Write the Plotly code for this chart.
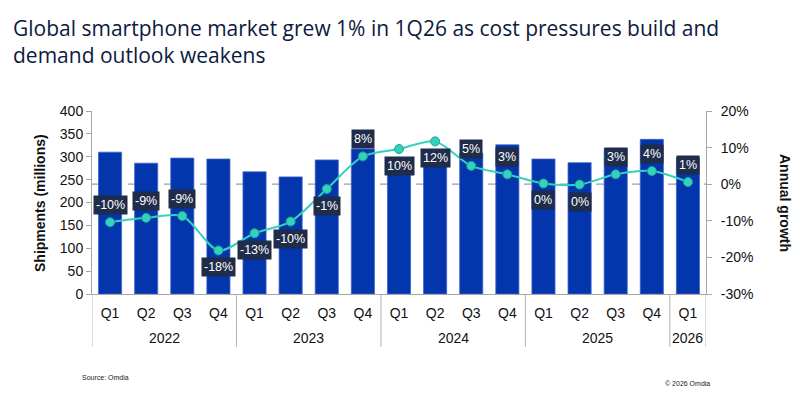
import plotly.graph_objects as go

# ---- data ----
years = ["2022"] * 4 + ["2023"] * 4 + ["2024"] * 4 + ["2025"] * 4 + ["2026"]
quarters = ["Q1", "Q2", "Q3", "Q4"] * 4 + ["Q1"]
shipments = [310, 286, 297, 295, 267, 256, 293, 317, 293, 286, 308, 326, 295, 287, 318, 338, 298]
growth = [-10.4, -9.2, -8.7, -18.1, -13.4, -10.2, -1.3, 7.6, 9.6, 11.7, 5.0, 2.7, 0.2, -0.1, 2.7, 3.6, 0.6]
growth_labels = ["-10%", "-9%", "-9%", "-18%", "-13%", "-10%", "-1%", "8%", "10%", "12%",
                 "5%", "3%", "0%", "0%", "3%", "4%", "1%"]
label_side = ["up", "up", "up", "down", "down", "down", "down", "up", "down", "down",
              "up", "up", "down", "down", "up", "up", "up"]
left_ticks = [0, 50, 100, 150, 200, 250, 300, 350, 400]
right_ticks = [-30, -20, -10, 0, 10, 20]

W, H = 800, 397
L, R, T, B = 92, 706, 111, 294


def px(x):
    return (x - L) / (R - L)


def py(y):
    return (B - y) / (B - T)


FONT = "Liberation Sans, Arial, sans-serif"
BAR = "#0335ad"
LINE = "#34d1bd"
NAVY = "#1f2c4a"
AXIS = "#a6a6a6"
TXT = "#111111"

idx = list(range(len(quarters)))

fig = go.Figure()
fig.add_trace(go.Bar(
    x=idx, y=shipments, yaxis="y",
    marker=dict(color=BAR, line=dict(color="#3f66cc", width=0.8)),
    hoverinfo="skip", showlegend=False,
))
fig.add_trace(go.Scatter(
    x=idx, y=growth, yaxis="y2", mode="lines+markers",
    line=dict(color=LINE, width=2, shape="spline", smoothing=0.8),
    marker=dict(size=9, color=LINE, line=dict(color="#1aa595", width=1)),
    hoverinfo="skip", showlegend=False,
))

annotations = []
for i, (g, t, s) in enumerate(zip(growth, growth_labels, label_side)):
    annotations.append(dict(
        x=i, y=g, xref="x", yref="y2", text=t, showarrow=False,
        yshift=17 if s == "up" else -17,
        bgcolor=NAVY, borderpad=2,
        font=dict(family=FONT, size=12.5, color="white"),
    ))

# year group labels and dividers
groups = []
for i, yv in enumerate(years):
    if not groups or groups[-1][0] != yv:
        groups.append([yv, i, i])
    else:
        groups[-1][2] = i

shapes = [dict(type="line", xref="paper", yref="y2", x0=0, x1=1, y0=0, y1=0,
               line=dict(color="#a0a0a0", width=1.3, dash="dash"), layer="below")]
bounds = sorted({g[1] - 0.5 for g in groups} | {groups[-1][2] + 0.5})
for b in bounds:
    shapes.append(dict(type="line", xref="x", yref="paper", x0=b, x1=b, y0=0, y1=py(347),
                       line=dict(color="#b5b5b5", width=1)))
for yv, a, b in groups:
    annotations.append(dict(x=(a + b) / 2, y=py(338), xref="x", yref="paper", text=yv,
                            showarrow=False, yanchor="middle",
                            font=dict(family=FONT, size=14, color=TXT)))

annotations += [
    dict(x=px(40), y=py(203), xref="paper", yref="paper", text="<b>Shipments (millions)</b>",
         textangle=-90, showarrow=False, xanchor="center", yanchor="middle",
         font=dict(family=FONT, size=14, color=TXT)),
    dict(x=px(785), y=py(203), xref="paper", yref="paper", text="<b>Annual growth</b>",
         textangle=90, showarrow=False, xanchor="center", yanchor="middle",
         font=dict(family=FONT, size=14, color=TXT)),
    dict(x=px(80), y=py(377), xref="paper", yref="paper", text="Source: Omdia",
         xanchor="left", yanchor="middle", showarrow=False,
         font=dict(family=FONT, size=7, color="#222222")),
    dict(x=px(712), y=py(383), xref="paper", yref="paper", text="© 2026 Omdia",
         xanchor="right", yanchor="middle", showarrow=False,
         font=dict(family=FONT, size=7, color="#222222")),
]

fig.update_layout(
    width=W, height=H,
    margin=dict(l=L, r=W - R, t=T, b=H - B, pad=0),
    paper_bgcolor="white", plot_bgcolor="white",
    bargap=0.36,
    title=dict(
        text="Global smartphone market grew 1% in 1Q26 as cost pressures build and<br>demand outlook weakens",
        x=13 / W, xref="container", xanchor="left",
        y=1 - 36 / H, yref="container", yanchor="top",
        font=dict(family="Open Sans, sans-serif", size=21, color="#0d1a3d"),
    ),
    xaxis=dict(
        range=[-0.5, len(idx) - 0.5], tickvals=idx, ticktext=quarters,
        showline=True, linecolor=AXIS, linewidth=1, ticks="", showgrid=False, zeroline=False,
        ticklabelstandoff=6,
        tickfont=dict(family=FONT, size=14, color=TXT),
    ),
    yaxis=dict(
        range=[0, 400], tickvals=left_ticks, showgrid=False, zeroline=False,
        showline=True, linecolor=AXIS, ticks="outside", ticklen=5, tickcolor=AXIS,
        tickfont=dict(family=FONT, size=14, color=TXT),
    ),
    yaxis2=dict(
        range=[-30, 20], tickvals=right_ticks, ticktext=[f"{v}%" for v in right_ticks],
        overlaying="y", side="right", showgrid=False, zeroline=False,
        showline=True, linecolor=AXIS, ticks="outside", ticklen=5, tickcolor=AXIS,
        ticklabelstandoff=6,
        tickfont=dict(family=FONT, size=14, color=TXT),
    ),
    shapes=shapes,
    annotations=annotations,
)

fig.write_html("out.html", config={"displayModeBar": False},
               post_script="document.body.style.margin='0px';")
